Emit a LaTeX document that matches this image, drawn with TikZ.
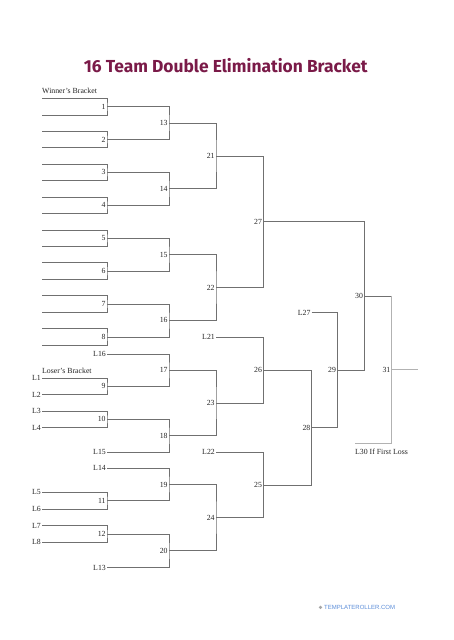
\documentclass[tikz,border=0pt]{standalone}
\usepackage{fontspec}
\setmainfont{Liberation Serif}
\newfontfamily\titlefont{Fira Sans}
\newfontfamily\footfont{Liberation Sans}
\definecolor{titlec}{HTML}{7A1A48}
\definecolor{linec}{HTML}{707070}
\definecolor{footc}{HTML}{5B8DD9}
\tikzset{
  br/.style={draw=linec, line width=0.8pt},
  lite/.style={draw=gray!60, line width=0.5pt},
  num/.style={font=\fontsize{7.8}{8}\selectfont, text=black!85, inner sep=1.2pt, anchor=east},
  lab/.style={font=\fontsize{7.8}{8}\selectfont, text=black!85, inner sep=1pt},
}
\begin{document}
\begin{tikzpicture}[x=1pt,y=-1pt]
\useasboundingbox (0,0) rectangle (454,640);
\fill[white] (0,0) rectangle (454,640);

% title
\node[font=\titlefont\bfseries\fontsize{17.4}{20}\selectfont, text=titlec] (title) at (225.8,66) {16 Team Double Elimination Bracket};

% section labels
\node[lab, anchor=west] (wb) at (41,91) {Winner's Bracket};
\node[lab, anchor=west] (lb) at (41,370.7) {Loser's Bracket};

% winners first round
\foreach \k/\y in {1/106.6,2/139.5,3/172.4,4/205.3,5/238.2,6/271.1,7/304.0,8/336.9} {
  \coordinate (m\k) at (107,\y);
  \coordinate (w\k a) at (42,\y-8.3);
  \coordinate (w\k b) at (42,\y+8.3);
}
% losers first round
\coordinate (m9) at (107,386.45);
\coordinate (m10) at (107,419.25);
\coordinate (m11) at (107,500.8);
\coordinate (m12) at (107,534);
% second round
\coordinate (m13) at (169,123.05);
\coordinate (m14) at (169,188.85);
\coordinate (m15) at (169,254.65);
\coordinate (m16) at (169,320.45);
\coordinate (m17) at (169,370.2);
\coordinate (m18) at (169,435.8);
\coordinate (m19) at (169,484.55);
\coordinate (m20) at (169,550.85);
% third round
\coordinate (m21) at (216,155.95);
\coordinate (m22) at (216,287.55);
\coordinate (m23) at (216,403.0);
\coordinate (m24) at (216,517.7);
% later rounds
\coordinate (m25) at (263.3,485);
\coordinate (m26) at (263.3,369.95);
\coordinate (m27) at (263.3,221.75);
\coordinate (m28) at (311.7,427.5);
\coordinate (m29) at (337.3,370.1);
\coordinate (m30) at (364.3,295.9);
\coordinate (m31) at (391.7,369.6);
\coordinate (l30) at (355,443.3);
\coordinate (end31) at (418.3,369.6);

% loser entry labels
\foreach \n/\y in {1/378.3,2/394.6,3/411.0,4/427.5,5/492.3,6/509.3,7/525.7,8/542.3}
  \node[lab, anchor=east] (L\n) at (42,\y) {L\n};
\foreach \n/\y in {16/353.9,15/452.3,14/468.3,13/567.7}
  \node[lab, anchor=east] (L\n) at (107,\y) {L\n};
\node[lab, anchor=east] (L21) at (216,336.9) {L21};
\node[lab, anchor=east] (L22) at (216,452.3) {L22};
\node[lab, anchor=east] (L27) at (311.7,312.7) {L27};

% brackets
\foreach \k in {1,...,8}
  \draw[br] (w\k a) -| (m\k) |- (w\k b);
\draw[br] (L1) -| (m9) |- (L2);
\draw[br] (L3) -| (m10) |- (L4);
\draw[br] (L5) -| (m11) |- (L6);
\draw[br] (L7) -| (m12) |- (L8);
\draw[br] (m1) -| (m13) |- (m2);
\draw[br] (m3) -| (m14) |- (m4);
\draw[br] (m5) -| (m15) |- (m6);
\draw[br] (m7) -| (m16) |- (m8);
\draw[br] (L16) -| (m17) |- (m9);
\draw[br] (m10) -| (m18) |- (L15);
\draw[br] (L14) -| (m19) |- (m11);
\draw[br] (m12) -| (m20) |- (L13);
\draw[br] (m13) -| (m21) |- (m14);
\draw[br] (m15) -| (m22) |- (m16);
\draw[br] (m17) -| (m23) |- (m18);
\draw[br] (m19) -| (m24) |- (m20);
\draw[br] (L21) -| (m26) |- (m23);
\draw[br] (L22) -| (m25) |- (m24);
\draw[br] (m21) -| (m27) |- (m22);
\draw[br] (m26) -| (m28) |- (m25);
\draw[br] (L27) -| (m29) |- (m28);
\draw[br] (m27) -| (m30) |- (m29);
\draw[br] (m30) -- (m30 -| m31);
\draw[lite] (m30 -| m31) -- (m31) -- (m31 |- l30) -- (l30);
\draw[lite] (m31) -- (end31);

% match numbers
\foreach \k in {1,...,31}
  \node[num] (n\k) at (m\k) {\k};

\node[lab, anchor=west] (l30t) at (354,451.7) {L30 If First Loss};

% footer
\fill[gray!70] (320.5,607.3) circle (1.8);
\node[font=\footfont\fontsize{6}{7}\selectfont, text=footc, anchor=west, inner sep=0pt] (foot) at (324,607.3) {TEMPLATEROLLER.COM};
\end{tikzpicture}
\end{document}
